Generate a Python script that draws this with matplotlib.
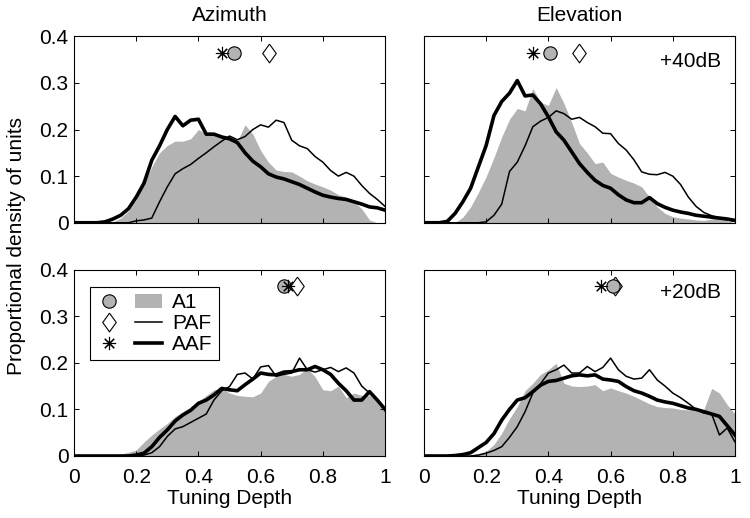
import numpy as np
import matplotlib
matplotlib.use('Agg')
import matplotlib.pyplot as plt
from matplotlib.lines import Line2D
from matplotlib.patches import Patch
from matplotlib.legend_handler import HandlerTuple

plt.rcParams['font.family'] = ['Liberation Sans', 'DejaVu Sans']

# tuning depth grid (step 0.025)
depth = np.linspace(0, 1, 41)

# azimuth, +40dB
az40_a1 = [0, 0, 0, 0, 0, 0.002, 0.01, 0.025, 0.05, 0.085, 0.12, 0.15, 0.166, 0.175, 0.175, 0.18,
           0.2, 0.19, 0.192, 0.185, 0.177, 0.175, 0.21, 0.19, 0.155, 0.13, 0.113, 0.11, 0.109, 0.1,
           0.09, 0.083, 0.077, 0.07, 0.06, 0.055, 0.045, 0.03, 0.006, 0, 0]
az40_paf = [0, 0, 0, 0, 0, 0, 0, 0, 0.004, 0.006, 0.01, 0.045, 0.077, 0.105, 0.116, 0.125,
            0.138, 0.15, 0.163, 0.175, 0.186, 0.178, 0.185, 0.2, 0.21, 0.205, 0.22, 0.215, 0.177, 0.165,
            0.159, 0.142, 0.13, 0.112, 0.1, 0.108, 0.1, 0.08, 0.063, 0.05, 0.035]
az40_aaf = [0, 0, 0, 0, 0.002, 0.008, 0.016, 0.03, 0.055, 0.085, 0.134, 0.165, 0.2, 0.228, 0.208, 0.22,
            0.222, 0.19, 0.19, 0.184, 0.18, 0.172, 0.15, 0.132, 0.12, 0.105, 0.098, 0.094, 0.088, 0.082,
            0.074, 0.066, 0.059, 0.055, 0.052, 0.05, 0.045, 0.04, 0.034, 0.032, 0.027]

# elevation, +40dB
el40_a1 = [0, 0, 0, 0, 0, 0.012, 0.034, 0.065, 0.099, 0.14, 0.184, 0.222, 0.245, 0.24, 0.288, 0.258,
           0.252, 0.29, 0.256, 0.215, 0.17, 0.15, 0.127, 0.13, 0.106, 0.098, 0.091, 0.085, 0.077, 0.055,
           0.034, 0.02, 0.013, 0.01, 0.008, 0.006, 0.005, 0.008, 0.01, 0.004, 0]
el40_paf = [0, 0, 0, 0, 0, 0, 0, 0, 0.002, 0.016, 0.04, 0.11, 0.13, 0.165, 0.206, 0.218,
            0.226, 0.24, 0.234, 0.222, 0.226, 0.215, 0.206, 0.192, 0.191, 0.17, 0.156, 0.135, 0.109, 0.104,
            0.103, 0.108, 0.1, 0.082, 0.055, 0.035, 0.022, 0.015, 0.01, 0.006, 0.003]
el40_aaf = [0, 0, 0, 0.003, 0.02, 0.045, 0.074, 0.12, 0.166, 0.23, 0.26, 0.278, 0.305, 0.272, 0.274, 0.255,
            0.227, 0.195, 0.177, 0.152, 0.127, 0.108, 0.091, 0.08, 0.074, 0.06, 0.049, 0.043, 0.043, 0.054,
            0.041, 0.033, 0.027, 0.023, 0.02, 0.016, 0.014, 0.012, 0.01, 0.008, 0.005]

# azimuth, +20dB
az20_a1 = [0, 0, 0, 0, 0, 0.001, 0.004, 0.008, 0.013, 0.03, 0.045, 0.058, 0.07, 0.085, 0.095, 0.105,
           0.117, 0.13, 0.142, 0.145, 0.135, 0.13, 0.128, 0.127, 0.135, 0.16, 0.171, 0.175, 0.171, 0.175,
           0.188, 0.17, 0.142, 0.14, 0.15, 0.125, 0.135, 0.13, 0.13, 0.12, 0.1]
az20_paf = [0, 0, 0, 0, 0, 0, 0, 0, 0, 0.002, 0.007, 0.02, 0.042, 0.058, 0.063, 0.072,
            0.081, 0.09, 0.12, 0.14, 0.149, 0.175, 0.178, 0.165, 0.191, 0.194, 0.171, 0.175, 0.178, 0.21,
            0.185, 0.18, 0.185, 0.19, 0.181, 0.189, 0.178, 0.15, 0.135, 0.12, 0.1]
az20_aaf = [0, 0, 0, 0, 0, 0, 0, 0, 0.002, 0.006, 0.02, 0.04, 0.056, 0.075, 0.088, 0.098,
            0.113, 0.12, 0.131, 0.145, 0.142, 0.14, 0.153, 0.165, 0.178, 0.175, 0.174, 0.18, 0.181, 0.185,
            0.185, 0.192, 0.185, 0.175, 0.156, 0.14, 0.12, 0.12, 0.138, 0.12, 0.1]

# elevation, +20dB
el20_a1 = [0, 0, 0, 0, 0, 0, 0.002, 0.005, 0.01, 0.025, 0.049, 0.08, 0.106, 0.14, 0.156, 0.175,
           0.185, 0.199, 0.156, 0.15, 0.149, 0.15, 0.153, 0.14, 0.146, 0.14, 0.135, 0.128, 0.12, 0.112,
           0.106, 0.104, 0.103, 0.1, 0.099, 0.1, 0.1, 0.145, 0.135, 0.11, 0.09]
el20_paf = [0, 0, 0, 0, 0, 0, 0, 0.002, 0.006, 0.012, 0.02, 0.04, 0.063, 0.095, 0.135, 0.155,
            0.178, 0.185, 0.195, 0.178, 0.178, 0.192, 0.181, 0.19, 0.21, 0.185, 0.171, 0.165, 0.167, 0.185,
            0.163, 0.15, 0.135, 0.125, 0.113, 0.1, 0.092, 0.09, 0.045, 0.06, 0.03]
el20_aaf = [0, 0, 0, 0, 0.001, 0.003, 0.007, 0.018, 0.029, 0.048, 0.077, 0.1, 0.12, 0.125, 0.138, 0.152,
            0.16, 0.162, 0.167, 0.172, 0.174, 0.172, 0.174, 0.165, 0.163, 0.16, 0.149, 0.14, 0.135, 0.128,
            0.12, 0.116, 0.113, 0.108, 0.103, 0.1, 0.095, 0.09, 0.085, 0.065, 0.045]

# mean tuning depth markers: A1, PAF, AAF
az40_means = [0.514, 0.628, 0.477]
el40_means = [0.405, 0.499, 0.351]
az20_means = [0.675, 0.718, 0.689]
el20_means = [0.608, 0.614, 0.569]
mean_y = 0.365

col_titles = ['Azimuth', 'Elevation']
level_labels = ['+40dB', '+20dB']

gray = '0.7'
fs = 15
diamond = [(0, 1), (0.72, 0), (0, -1), (-0.72, 0), (0, 1)]

fig = plt.figure(figsize=(7.5, 5.18), dpi=100)
lefts = [0.0987, 0.5653]
bottoms = [0.570, 0.1197]
w, h = 0.4147, 0.360

panels = [[(az40_a1, az40_paf, az40_aaf, az40_means), (el40_a1, el40_paf, el40_aaf, el40_means)],
          [(az20_a1, az20_paf, az20_aaf, az20_means), (el20_a1, el20_paf, el20_aaf, el20_means)]]

for r in range(2):
    for c in range(2):
        a1, paf, aaf, means = panels[r][c]
        ax = fig.add_axes([lefts[c], bottoms[r], w, h])
        ax.fill_between(depth, a1, color=gray, linewidth=0)
        ax.plot(depth, paf, color='k', lw=1.1)
        ax.plot(depth, aaf, color='k', lw=2.6)
        # mean markers
        ax.plot(means[1], mean_y, marker=diamond, ms=13.5, mfc='white', mec='k', mew=0.8, ls='none')
        ax.plot(means[0], mean_y, 'o', ms=9.6, mfc=gray, mec='k', mew=0.8, ls='none')
        ax.plot(means[2], mean_y, marker=(8, 2, 0), ms=9.5, color='k', mew=0.8, ls='none')

        ax.set_xlim(0, 1)
        ax.set_ylim(0, 0.4)
        ax.set_xticks([0, 0.2, 0.4, 0.6, 0.8, 1])
        ax.set_yticks([0, 0.1, 0.2, 0.3, 0.4])
        ax.set_xticklabels(['0', '0.2', '0.4', '0.6', '0.8', '1'])
        ax.set_yticklabels(['0', '0.1', '0.2', '0.3', '0.4'])
        ax.tick_params(direction='in', top=True, right=True, length=3.5, width=0.7, labelsize=fs, pad=4)
        ax.tick_params(axis='x', pad=9)
        for s in ax.spines.values():
            s.set_linewidth(0.8)
        if r == 0:
            ax.tick_params(labelbottom=False)
            ax.set_title(col_titles[c], fontsize=fs, pad=11)
        else:
            ax.set_xlabel('Tuning Depth', fontsize=fs, labelpad=1)
        if c == 1:
            ax.tick_params(labelleft=False)
            ax.text(0.955, 0.865 if r == 0 else 0.875, level_labels[r], transform=ax.transAxes,
                    ha='right', va='center', fontsize=fs)
        if r == 1 and c == 0:
            handles = [(Line2D([], [], marker='o', ms=9.6, mfc=gray, mec='k', mew=0.8, ls='none'),
                        Patch(facecolor=gray, edgecolor='none')),
                       (Line2D([], [], marker=diamond, ms=13.5, mfc='white', mec='k', mew=0.8, ls='none'),
                        Line2D([], [], color='k', lw=1.1)),
                       (Line2D([], [], marker=(8, 2, 0), ms=9.5, color='k', mew=0.8, ls='none'),
                        Line2D([], [], color='k', lw=2.6))]
            leg = ax.legend(handles, ['A1', 'PAF', 'AAF'],
                            handler_map={tuple: HandlerTuple(ndivide=None, pad=0.6)},
                            loc='upper left', bbox_to_anchor=(0.05, 0.905), borderaxespad=0,
                            handlelength=3.2, handletextpad=0.45, labelspacing=0.08, borderpad=0.3,
                            fontsize=fs, fancybox=False, framealpha=1, edgecolor='k')
            leg.get_frame().set_linewidth(0.8)

fig.text(0.022, 0.525, 'Proportional density of units', rotation=90, ha='center', va='center', fontsize=fs)

plt.savefig('out.png', dpi=100)
